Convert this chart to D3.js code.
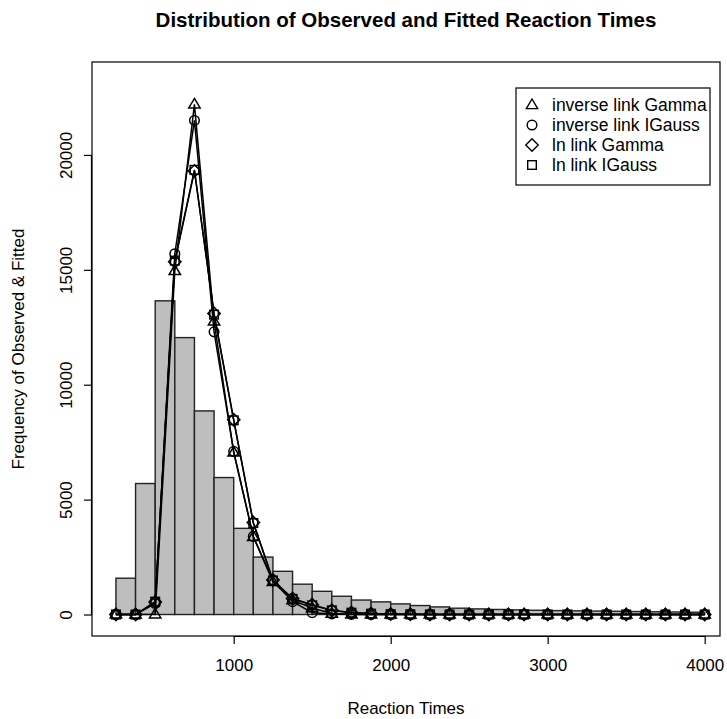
<!DOCTYPE html>
<html>
<head>
<meta charset="utf-8">
<script src="https://cdn.jsdelivr.net/npm/d3@7"></script>
<style>
  body { margin: 0; background: #fff; }
  text { font-family: "Liberation Sans", Arial, sans-serif; fill: #000; }
</style>
</head>
<body>
<div id="chart"></div>
<script>
// histogram bins (left edges, width 125) and observed counts
const binStarts = [250, 375, 500, 625, 750, 875, 1000, 1125, 1250, 1375, 1500, 1625, 1750, 1875, 2000,
  2125, 2250, 2375, 2500, 2625, 2750, 2875, 3000, 3125, 3250, 3375, 3500, 3625, 3750, 3875];
const binWidth = 125;
const observed = [1580, 5700, 13650, 12050, 8860, 5960, 3750, 2500, 1880, 1320, 1010, 795, 630, 550, 462,
  390, 330, 275, 245, 220, 200, 185, 170, 160, 150, 140, 130, 120, 110, 100];

// x positions of the fitted values
const fitX = [250, 375, 500, 625, 750, 875, 1000, 1125, 1250, 1375, 1500, 1625, 1750, 1875, 2000, 2125,
  2250, 2375, 2500, 2625, 2750, 2850, 3000, 3125, 3250, 3375, 3500, 3625, 3750, 3875, 4000];
const invGamma = [0, 0, 10, 14950, 22200, 12750, 7050, 3380, 1420, 620, 280, 40, 10, 0, 0, 0,
  0, 0, 0, 0, 0, 0, 0, 0, 0, 0, 0, 0, 0, 0, 0];
const invIGauss = [0, 0, 480, 15700, 21500, 12300, 7100, 3400, 1480, 560, 80, 25, 5, 0, 0, 0,
  0, 0, 0, 0, 0, 0, 0, 0, 0, 0, 0, 0, 0, 0, 0];
const lnGamma = [0, 0, 540, 15350, 19300, 13100, 8480, 4000, 1500, 700, 430, 190, 90, 40, 20, 10,
  5, 0, 0, 0, 0, 0, 0, 0, 0, 0, 0, 0, 0, 0, 0];
const lnIGauss = [0, 0, 560, 15400, 19350, 13050, 8450, 3980, 1480, 680, 400, 180, 80, 35, 15, 8,
  4, 0, 0, 0, 0, 0, 0, 0, 0, 0, 0, 0, 0, 0, 0];

const seriesNames = ["inverse link Gamma", "inverse link IGauss", "ln link Gamma", "ln link IGauss"];
const seriesValues = [invGamma, invIGauss, lnGamma, lnIGauss];
const seriesSymbols = ["triangle", "circle", "diamond", "square"];

const xTicks = [1000, 2000, 3000, 4000];
const yTicks = [0, 5000, 10000, 15000, 20000];

const width = 727, height = 719;
const plot = { left: 92, right: 720, top: 62, bottom: 636 };

const svg = d3.select("#chart").append("svg")
  .attr("width", width)
  .attr("height", height);

const x = d3.scaleLinear().domain([97.5, 4097.5]).range([plot.left, plot.right]);
const y = d3.scaleLinear().domain([-935, 24043]).range([plot.bottom, plot.top]);

// bars
svg.append("g")
  .selectAll("rect")
  .data(binStarts)
  .join("rect")
  .attr("x", (d) => x(d))
  .attr("width", (d) => x(d + binWidth) - x(d))
  .attr("y", (d, i) => y(observed[i]))
  .attr("height", (d, i) => y(0) - y(observed[i]))
  .attr("fill", "#bebebe")
  .attr("stroke", "#222")
  .attr("stroke-width", 1.4);

// symbol shapes, sized like R's pch 0/1/2/5
function marker(g, type, cx, cy) {
  if (type === "circle") {
    g.append("circle").attr("cx", cx).attr("cy", cy).attr("r", 4.8);
  } else if (type === "triangle") {
    const r = 6;
    g.append("path").attr("d", `M${cx},${cy - r} L${cx + r * 0.95},${cy + r * 0.6} L${cx - r * 0.95},${cy + r * 0.6} Z`);
  } else if (type === "diamond") {
    const r = 6.2;
    g.append("path").attr("d", `M${cx},${cy - r} L${cx + r},${cy} L${cx},${cy + r} L${cx - r},${cy} Z`);
  } else {
    const r = 4.3;
    g.append("rect").attr("x", cx - r).attr("y", cy - r).attr("width", 2 * r).attr("height", 2 * r);
  }
}

const line = d3.line()
  .x((d) => x(d[0]))
  .y((d) => y(d[1]));

seriesValues.forEach((vals, s) => {
  const pts = fitX.map((v, i) => [v, vals[i]]);
  const g = svg.append("g")
    .attr("fill", "none")
    .attr("stroke", "#000")
    .attr("stroke-width", 1.5);
  g.append("path").attr("d", line(pts));
  pts.forEach((p) => marker(g, seriesSymbols[s], x(p[0]), y(p[1])));
});

// box
svg.append("rect")
  .attr("x", plot.left).attr("y", plot.top)
  .attr("width", plot.right - plot.left).attr("height", plot.bottom - plot.top)
  .attr("fill", "none").attr("stroke", "#000").attr("stroke-width", 1.2);

// x axis
const xAxis = svg.append("g")
  .attr("transform", `translate(0,${plot.bottom})`)
  .call(d3.axisBottom(x).tickValues(xTicks).tickSize(8).tickPadding(15).tickFormat(d3.format("d")));
xAxis.select(".domain").attr("d", `M${x(1000)},0.5H${x(4000)}`).attr("stroke-width", 1.2);
xAxis.selectAll(".tick line").attr("stroke-width", 1.2);
xAxis.selectAll("text").attr("font-size", 17).style("font-family", "'Liberation Sans', Arial, sans-serif");

// y axis
const yAxis = svg.append("g")
  .attr("transform", `translate(${plot.left},0)`)
  .call(d3.axisLeft(y).tickValues(yTicks).tickSize(8).tickFormat(d3.format("d")));
yAxis.select(".domain").attr("d", `M-0.5,${y(0)}V${y(20000)}`).attr("stroke-width", 1.2);
yAxis.selectAll(".tick line").attr("stroke-width", 1.2);
yAxis.selectAll("text")
  .attr("x", null).attr("dy", null)
  .attr("text-anchor", "middle")
  .attr("transform", "translate(-20,0) rotate(-90)")
  .attr("font-size", 17)
  .style("font-family", "'Liberation Sans', Arial, sans-serif");

// titles
svg.append("text")
  .attr("x", (plot.left + plot.right) / 2).attr("y", 27)
  .attr("text-anchor", "middle")
  .attr("font-weight", "bold").attr("font-size", 20.5)
  .text("Distribution of Observed and Fitted Reaction Times");

svg.append("text")
  .attr("x", (plot.left + plot.right) / 2).attr("y", 714)
  .attr("text-anchor", "middle")
  .attr("font-size", 17)
  .text("Reaction Times");

svg.append("text")
  .attr("transform", `translate(24,${(plot.top + plot.bottom) / 2}) rotate(-90)`)
  .attr("text-anchor", "middle")
  .attr("font-size", 17)
  .text("Frequency of Observed & Fitted");

// legend
const legend = svg.append("g");
legend.append("rect")
  .attr("x", 516).attr("y", 88).attr("width", 194).attr("height", 97)
  .attr("fill", "#fff").attr("stroke", "#000").attr("stroke-width", 1.2);
seriesNames.forEach((name, i) => {
  const ly = 105 + i * 20;
  const g = legend.append("g").attr("fill", "none").attr("stroke", "#000").attr("stroke-width", 1.4);
  marker(g, seriesSymbols[i], 532, ly);
  legend.append("text")
    .attr("x", 552).attr("y", ly + 6)
    .attr("font-size", 17.5)
    .text(name);
});
</script>
</body>
</html>
